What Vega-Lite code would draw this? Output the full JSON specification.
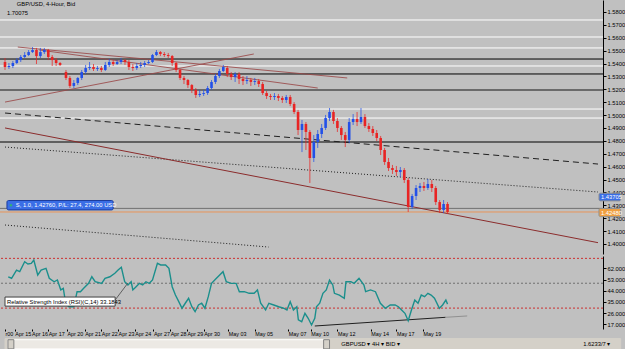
{
"$schema": "https://vega.github.io/schema/vega-lite/v6.json",
"width": 603, "height": 329,
"autosize": {"type": "none"},
"padding": {"left": 0, "top": 0, "right": 22, "bottom": 20},
"background": "#c0c0c0",
"config": {"view": {"stroke": null}, "axis": {"grid": false, "labelFont": "Liberation Sans", "labelFontSize": 5.8, "labelColor": "#000000", "tickColor": "#000000", "domainColor": "#000000", "tickSize": 3, "labelPadding": 1, "labelOverlap": false, "labelBound": false}, "text": {"font": "Liberation Sans"}},
"datasets": {
"candles": [
{"x":0,"o":1.5412,"c":1.5373,"h":1.5443,"l":1.5350},{"x":4,"o":1.5373,"c":1.5381,"h":1.5404,"l":1.5358},{"x":8,"o":1.5381,"c":1.5404,"h":1.5420,"l":1.5365},{"x":12,"o":1.5404,"c":1.5427,"h":1.5443,"l":1.5396},{"x":16,"o":1.5427,"c":1.5451,"h":1.5466,"l":1.5412},{"x":20,"o":1.5451,"c":1.5466,"h":1.5489,"l":1.5443},{"x":24,"o":1.5466,"c":1.5489,"h":1.5505,"l":1.5458},{"x":28,"o":1.5489,"c":1.5505,"h":1.5528,"l":1.5482},{"x":32,"o":1.5505,"c":1.5458,"h":1.5521,"l":1.5396},{"x":36,"o":1.5458,"c":1.5489,"h":1.5521,"l":1.5443},{"x":40,"o":1.5489,"c":1.5505,"h":1.5521,"l":1.5474},{"x":44,"o":1.5505,"c":1.5451,"h":1.5513,"l":1.5427},{"x":48,"o":1.5451,"c":1.5427,"h":1.5466,"l":1.5381},{"x":52,"o":1.5427,"c":1.5404,"h":1.5443,"l":1.5381},{"x":56,"o":1.5404,"c":1.5389,"h":1.5412,"l":1.5381},
{"x":62,"o":1.5334,"c":1.5288,"h":1.5350,"l":1.5272},{"x":66,"o":1.5288,"c":1.5226,"h":1.5303,"l":1.5210},{"x":70,"o":1.5226,"c":1.5249,"h":1.5272,"l":1.5210},{"x":74,"o":1.5249,"c":1.5288,"h":1.5295,"l":1.5233},{"x":78,"o":1.5288,"c":1.5334,"h":1.5350,"l":1.5272},{"x":82,"o":1.5334,"c":1.5365,"h":1.5389,"l":1.5319},{"x":86,"o":1.5365,"c":1.5373,"h":1.5412,"l":1.5350},{"x":90,"o":1.5373,"c":1.5358,"h":1.5396,"l":1.5342},{"x":94,"o":1.5358,"c":1.5365,"h":1.5381,"l":1.5342},{"x":98,"o":1.5365,"c":1.5350,"h":1.5381,"l":1.5334},{"x":102,"o":1.5350,"c":1.5389,"h":1.5412,"l":1.5342},{"x":106,"o":1.5389,"c":1.5412,"h":1.5435,"l":1.5373},{"x":110,"o":1.5412,"c":1.5396,"h":1.5427,"l":1.5381},{"x":114,"o":1.5396,"c":1.5412,"h":1.5427,"l":1.5389},{"x":118,"o":1.5412,"c":1.5427,"h":1.5443,"l":1.5396},{"x":122,"o":1.5427,"c":1.5412,"h":1.5435,"l":1.5389},{"x":126,"o":1.5412,"c":1.5373,"h":1.5427,"l":1.5350},{"x":130,"o":1.5373,"c":1.5365,"h":1.5396,"l":1.5342},{"x":134,"o":1.5365,"c":1.5381,"h":1.5404,"l":1.5350},{"x":138,"o":1.5381,"c":1.5389,"h":1.5412,"l":1.5365},{"x":142,"o":1.5389,"c":1.5404,"h":1.5420,"l":1.5373},{"x":146,"o":1.5404,"c":1.5412,"h":1.5427,"l":1.5396},{"x":150,"o":1.5412,"c":1.5466,"h":1.5474,"l":1.5404},{"x":154,"o":1.5466,"c":1.5489,"h":1.5505,"l":1.5458},{"x":158,"o":1.5489,"c":1.5474,"h":1.5497,"l":1.5458},{"x":162,"o":1.5474,"c":1.5466,"h":1.5489,"l":1.5451},{"x":166,"o":1.5466,"c":1.5458,"h":1.5482,"l":1.5443},
{"x":170,"o":1.5458,"c":1.5404,"h":1.5466,"l":1.5381},{"x":174,"o":1.5404,"c":1.5350,"h":1.5412,"l":1.5334},{"x":178,"o":1.5350,"c":1.5288,"h":1.5358,"l":1.5272},{"x":182,"o":1.5288,"c":1.5272,"h":1.5303,"l":1.5241},{"x":186,"o":1.5272,"c":1.5233,"h":1.5280,"l":1.5210},{"x":190,"o":1.5233,"c":1.5195,"h":1.5241,"l":1.5171},{"x":194,"o":1.5195,"c":1.5156,"h":1.5210,"l":1.5133},{"x":198,"o":1.5156,"c":1.5164,"h":1.5195,"l":1.5140},{"x":202,"o":1.5164,"c":1.5171,"h":1.5195,"l":1.5148},{"x":206,"o":1.5171,"c":1.5210,"h":1.5226,"l":1.5156},{"x":210,"o":1.5210,"c":1.5257,"h":1.5272,"l":1.5195},{"x":214,"o":1.5257,"c":1.5303,"h":1.5319,"l":1.5241},{"x":218,"o":1.5303,"c":1.5342,"h":1.5358,"l":1.5288},{"x":222,"o":1.5342,"c":1.5373,"h":1.5389,"l":1.5334},{"x":226,"o":1.5365,"c":1.5319,"h":1.5381,"l":1.5295},{"x":230,"o":1.5319,"c":1.5295,"h":1.5334,"l":1.5272},{"x":234,"o":1.5295,"c":1.5319,"h":1.5334,"l":1.5257},{"x":238,"o":1.5319,"c":1.5280,"h":1.5334,"l":1.5241},{"x":242,"o":1.5280,"c":1.5264,"h":1.5303,"l":1.5233},{"x":246,"o":1.5264,"c":1.5272,"h":1.5303,"l":1.5241},{"x":250,"o":1.5272,"c":1.5257,"h":1.5288,"l":1.5226},{"x":254,"o":1.5257,"c":1.5264,"h":1.5288,"l":1.5233},{"x":258,"o":1.5264,"c":1.5241,"h":1.5280,"l":1.5218},{"x":262,"o":1.5241,"c":1.5171,"h":1.5257,"l":1.5156},{"x":266,"o":1.5171,"c":1.5148,"h":1.5187,"l":1.5125},{"x":270,"o":1.5148,"c":1.5140,"h":1.5164,"l":1.5117},{"x":274,"o":1.5140,"c":1.5148,"h":1.5171,"l":1.5117},{"x":278,"o":1.5148,"c":1.5133,"h":1.5164,"l":1.5109},{"x":282,"o":1.5133,"c":1.5117,"h":1.5148,"l":1.5094},{"x":286,"o":1.5117,"c":1.5140,"h":1.5156,"l":1.5094},{"x":290,"o":1.5140,"c":1.5086,"h":1.5156,"l":1.5070},{"x":294,"o":1.5086,"c":1.5024,"h":1.5101,"l":1.5008},{"x":298,"o":1.5024,"c":1.4884,"h":1.5040,"l":1.4845},
{"x":302,"o":1.4884,"c":1.4931,"h":1.4962,"l":1.4713},{"x":306,"o":1.4931,"c":1.4869,"h":1.4946,"l":1.4729},{"x":310,"o":1.4869,"c":1.4667,"h":1.4884,"l":1.4473},{"x":314,"o":1.4667,"c":1.4791,"h":1.4845,"l":1.4636},{"x":318,"o":1.4791,"c":1.4853,"h":1.4884,"l":1.4745},{"x":322,"o":1.4853,"c":1.4900,"h":1.4931,"l":1.4822},{"x":326,"o":1.4900,"c":1.4977,"h":1.5001,"l":1.4884},{"x":330,"o":1.4977,"c":1.5024,"h":1.5055,"l":1.4954},{"x":334,"o":1.5024,"c":1.4954,"h":1.5040,"l":1.4931},{"x":338,"o":1.4954,"c":1.4900,"h":1.4977,"l":1.4869},{"x":342,"o":1.4900,"c":1.4845,"h":1.4915,"l":1.4807},{"x":346,"o":1.4845,"c":1.4807,"h":1.4869,"l":1.4752},{"x":350,"o":1.4807,"c":1.4946,"h":1.4977,"l":1.4783},{"x":354,"o":1.4946,"c":1.4970,"h":1.5008,"l":1.4923},{"x":358,"o":1.4970,"c":1.4946,"h":1.5024,"l":1.4915},{"x":362,"o":1.4946,"c":1.4985,"h":1.5055,"l":1.4931},{"x":366,"o":1.4985,"c":1.4915,"h":1.5008,"l":1.4900},{"x":370,"o":1.4915,"c":1.4892,"h":1.4938,"l":1.4869},{"x":374,"o":1.4892,"c":1.4861,"h":1.4915,"l":1.4838},{"x":378,"o":1.4861,"c":1.4822,"h":1.4884,"l":1.4799},{"x":382,"o":1.4822,"c":1.4729,"h":1.4838,"l":1.4690},{"x":386,"o":1.4729,"c":1.4636,"h":1.4745,"l":1.4613},{"x":390,"o":1.4636,"c":1.4589,"h":1.4667,"l":1.4566},{"x":394,"o":1.4589,"c":1.4574,"h":1.4613,"l":1.4543},{"x":398,"o":1.4574,"c":1.4558,"h":1.4605,"l":1.4527},{"x":402,"o":1.4558,"c":1.4574,"h":1.4597,"l":1.4520},{"x":406,"o":1.4574,"c":1.4496,"h":1.4589,"l":1.4473},{"x":410,"o":1.4496,"c":1.4287,"h":1.4512,"l":1.4248},{"x":414,"o":1.4287,"c":1.4372,"h":1.4388,"l":1.4271},{"x":418,"o":1.4372,"c":1.4434,"h":1.4457,"l":1.4341},{"x":422,"o":1.4434,"c":1.4450,"h":1.4473,"l":1.4403},{"x":426,"o":1.4450,"c":1.4434,"h":1.4481,"l":1.4411},{"x":430,"o":1.4434,"c":1.4465,"h":1.4504,"l":1.4419},{"x":434,"o":1.4465,"c":1.4434,"h":1.4496,"l":1.4403},{"x":438,"o":1.4434,"c":1.4325,"h":1.4450,"l":1.4302},{"x":442,"o":1.4325,"c":1.4264,"h":1.4341,"l":1.4240},{"x":446,"o":1.4264,"c":1.4310,"h":1.4341,"l":1.4240},{"x":450,"o":1.4310,"c":1.4248,"h":1.4325,"l":1.4232}
],
"hlines": [
{"p":1.5738,"k":"white"},{"p":1.5606,"k":"white"},{"p":1.5521,"k":"white"},{"p":1.5381,"k":"white"},{"p":1.5047,"k":"white"},{"p":1.4977,"k":"white"},
{"p":1.5435,"k":"black"},{"p":1.5319,"k":"black"},{"p":1.4791,"k":"black"},
{"p":1.5195,"k":"gray"},{"p":1.4276,"k":"order"},{"p":1.4248,"k":"bid"}
],
"trend": [
{"id":"dash","k":"dash","x":0,"p":1.5016},{"id":"dash","k":"dash","x":603,"p":1.4620},
{"id":"dot1","k":"dot","x":0,"p":1.4752},{"id":"dot1","k":"dot","x":603,"p":1.4403},
{"id":"dot2","k":"dot","x":0,"p":1.4147},{"id":"dot2","k":"dot","x":268,"p":1.3976},
{"id":"main","k":"main","x":0,"p":1.4900},{"id":"main","k":"main","x":603,"p":1.4010},
{"id":"A","k":"brown","x":13,"p":1.5528},{"id":"A","k":"brown","x":348,"p":1.5288},
{"id":"B","k":"brown","x":35,"p":1.5505},{"id":"B","k":"brown","x":318,"p":1.5210},
{"id":"C","k":"brown","x":0,"p":1.5101},{"id":"C","k":"brown","x":253,"p":1.5474}
],
"rsi": [
{"x":3.3,"v":55.2},{"x":6.7,"v":54.0},{"x":11.7,"v":60.6},{"x":15,"v":59.3},{"x":20,"v":67.3},{"x":23.3,"v":65.5},{"x":26.7,"v":66.0},{"x":29.3,"v":68.7},{"x":33.3,"v":56.6},{"x":36.7,"v":60.6},{"x":41.7,"v":62.0},{"x":45,"v":54.0},{"x":50,"v":51.2},{"x":53.3,"v":52.6},{"x":56.7,"v":44.6},{"x":59.3,"v":45.9},{"x":61.7,"v":33.9},{"x":65,"v":31.1},{"x":70,"v":31.1},{"x":73.3,"v":43.2},{"x":76.7,"v":43.2},{"x":80,"v":45.9},{"x":85,"v":49.9},{"x":88.3,"v":55.2},{"x":91.7,"v":51.2},{"x":98.3,"v":49.9},{"x":101.7,"v":54.0},{"x":106.7,"v":55.2},{"x":111.7,"v":58.0},{"x":115,"v":60.6},{"x":118.3,"v":62.8},{"x":121.7,"v":51.2},{"x":125,"v":48.6},{"x":128.3,"v":51.2},{"x":130,"v":44.6},{"x":133.3,"v":47.2},{"x":136.7,"v":49.9},{"x":140,"v":48.6},{"x":143.3,"v":51.2},{"x":146.7,"v":49.9},{"x":150,"v":52.6},{"x":155,"v":66.0},{"x":158.3,"v":64.7},{"x":163.3,"v":64.7},{"x":166.7,"v":62.0},{"x":170,"v":47.2},{"x":173.3,"v":40.5},{"x":176.7,"v":35.2},{"x":180,"v":29.9},{"x":183.3,"v":33.9},{"x":186.7,"v":37.9},{"x":190,"v":31.1},{"x":193.3,"v":27.1},{"x":196.7,"v":32.5},{"x":200,"v":33.9},{"x":203.3,"v":29.9},{"x":206.7,"v":39.2},{"x":210,"v":49.9},{"x":215,"v":54.0},{"x":218.3,"v":56.6},{"x":221.7,"v":59.3},{"x":225,"v":51.2},{"x":230,"v":49.9},{"x":235,"v":49.9},{"x":238.3,"v":43.2},{"x":243.3,"v":43.2},{"x":248.3,"v":41.9},{"x":253.3,"v":41.9},{"x":256.7,"v":44.6},{"x":260,"v":33.9},{"x":265,"v":28.5},{"x":268.3,"v":33.9},{"x":273.3,"v":32.5},{"x":278.3,"v":31.1},{"x":283.3,"v":29.9},{"x":286.7,"v":28.5},{"x":290,"v":35.2},{"x":293.3,"v":28.5},{"x":296.7,"v":31.1},{"x":298.3,"v":20.5},{"x":301.7,"v":19.1},{"x":305,"v":25.8},{"x":308.3,"v":21.8},{"x":311.7,"v":16.4},{"x":315,"v":21.8},{"x":316.7,"v":31.1},{"x":320,"v":33.9},{"x":323.3,"v":41.9},{"x":326.7,"v":44.6},{"x":330,"v":52.6},{"x":333.3,"v":48.6},{"x":335,"v":41.9},{"x":340,"v":40.5},{"x":345,"v":37.9},{"x":346.7,"v":51.2},{"x":351.7,"v":51.2},{"x":355,"v":49.9},{"x":360,"v":54.0},{"x":365,"v":48.6},{"x":366.7,"v":43.2},{"x":371.7,"v":44.6},{"x":376.7,"v":43.2},{"x":381.7,"v":33.9},{"x":386.7,"v":29.9},{"x":391.7,"v":32.5},{"x":396.7,"v":32.5},{"x":400,"v":31.1},{"x":403.3,"v":28.5},{"x":406.7,"v":25.8},{"x":410,"v":19.9},{"x":413.3,"v":28.5},{"x":416.7,"v":36.5},{"x":420,"v":33.9},{"x":423.3,"v":40.5},{"x":426.7,"v":39.2},{"x":430,"v":41.9},{"x":433.3,"v":40.5},{"x":436.7,"v":37.9},{"x":441.7,"v":29.9},{"x":445,"v":32.5},{"x":448.3,"v":36.5},{"x":450,"v":33.2}
],
"rsilevels": [{"v":70,"k":"red"},{"v":50,"k":"gray"},{"v":30,"k":"red"}],
"rsitrend": [{"id":"t1","k":"black","x":315,"v":15.6},{"id":"t1","k":"black","x":448,"v":22.6},{"id":"t2","k":"light","x":448,"v":22.6},{"id":"t2","k":"light","x":470,"v":23.7},{"id":"t3","k":"leader","x":112,"v":36.5},{"id":"t3","k":"leader","x":125,"v":50.2}],
"toolbar": [{"x1":0,"x2":626,"v1":5.5,"v2":-4,"f":"bar"},{"x1":3,"x2":330,"v1":4.6,"v2":-2.8,"f":"track"},{"x1":3,"x2":9,"v1":4.6,"v2":-2.8,"f":"btn"},{"x1":324,"x2":330,"v1":4.6,"v2":-2.8,"f":"btn"}]
},
"resolve": {"scale": {"y": "independent"}, "axis": {"y": "independent"}},
"layer": [
{"layer": [
 {"data": {"name": "hlines"}, "transform": [{"filter": "datum.k == 'white'"}], "mark": {"type": "rule", "color": "#ffffff", "strokeWidth": 1},
  "encoding": {"y": {"field": "p", "type": "quantitative", "title": null, "scale": {"domain": [1.3922, 1.5893], "range": [254, 0], "zero": false, "nice": false}, "axis": {"orient": "right", "values": [1.40,1.41,1.42,1.43,1.44,1.45,1.46,1.47,1.48,1.49,1.50,1.51,1.52,1.53,1.54,1.55,1.56,1.57,1.58], "format": ".5f", "labelOverlap": false}}}},
 {"data": {"name": "hlines"}, "transform": [{"filter": "datum.k == 'black'"}], "mark": {"type": "rule", "color": "#000000", "strokeWidth": 1},
  "encoding": {"y": {"field": "p", "type": "quantitative", "title": null, "axis": {"orient": "right", "values": [1.40,1.41,1.42,1.43,1.44,1.45,1.46,1.47,1.48,1.49,1.50,1.51,1.52,1.53,1.54,1.55,1.56,1.57,1.58], "format": ".5f", "labelOverlap": false}}}},
 {"data": {"name": "hlines"}, "transform": [{"filter": "datum.k == 'gray'"}], "mark": {"type": "rule", "color": "#6a6a6a", "strokeWidth": 2},
  "encoding": {"y": {"field": "p", "type": "quantitative", "title": null, "axis": {"orient": "right", "values": [1.40,1.41,1.42,1.43,1.44,1.45,1.46,1.47,1.48,1.49,1.50,1.51,1.52,1.53,1.54,1.55,1.56,1.57,1.58], "format": ".5f", "labelOverlap": false}}}},
 {"data": {"name": "hlines"}, "transform": [{"filter": "datum.k == 'order'"}], "mark": {"type": "rule", "color": "#707070", "strokeWidth": 1},
  "encoding": {"y": {"field": "p", "type": "quantitative", "title": null, "axis": {"orient": "right", "values": [1.40,1.41,1.42,1.43,1.44,1.45,1.46,1.47,1.48,1.49,1.50,1.51,1.52,1.53,1.54,1.55,1.56,1.57,1.58], "format": ".5f", "labelOverlap": false}}}},
 {"data": {"name": "hlines"}, "transform": [{"filter": "datum.k == 'bid'"}], "mark": {"type": "rule", "color": "#e8955a", "strokeWidth": 1},
  "encoding": {"y": {"field": "p", "type": "quantitative", "title": null, "axis": {"orient": "right", "values": [1.40,1.41,1.42,1.43,1.44,1.45,1.46,1.47,1.48,1.49,1.50,1.51,1.52,1.53,1.54,1.55,1.56,1.57,1.58], "format": ".5f", "labelOverlap": false}}}},
 {"data": {"name": "trend"}, "transform": [{"filter": "datum.k == 'dash'"}], "mark": {"type": "line", "color": "#202020", "strokeWidth": 1, "strokeDash": [6, 4]},
  "encoding": {"x": {"field": "x", "type": "quantitative", "title": null, "scale": {"domain": [0, 603], "nice": false, "zero": false}, "axis": {"values": [0,10,27,44,63,81,98,115,132,151,168,185,202,227,254,288,311,338,372,398,425], "labelAlign": "left", "labelOverlap": false, "labelFlush": false, "domain": false, "tickSize": 2, "labelPadding": 0, "labelFontSize": 5.4, "labelExpr": "['r00','Apr 15','Apr 16','Apr 17','Apr 20','Apr 21','Apr 22','Apr 23','Apr 24','Apr 27','Apr 28','Apr 29','Apr 30','May 03','May 05','May 07','May 10','May 12','May 14','May 17','May 19'][indexof([0,10,27,44,63,81,98,115,132,151,168,185,202,227,254,288,311,338,372,398,425], datum.value)]"}}, "y": {"field": "p", "type": "quantitative", "title": null, "axis": {"orient": "right", "values": [1.40,1.41,1.42,1.43,1.44,1.45,1.46,1.47,1.48,1.49,1.50,1.51,1.52,1.53,1.54,1.55,1.56,1.57,1.58], "format": ".5f", "labelOverlap": false}}, "detail": {"field": "id"}}},
 {"data": {"name": "trend"}, "transform": [{"filter": "datum.k == 'dot'"}], "mark": {"type": "line", "color": "#202020", "strokeWidth": 1, "strokeDash": [1, 2]},
  "encoding": {"x": {"field": "x", "type": "quantitative", "title": null, "axis": {"values": [0,10,27,44,63,81,98,115,132,151,168,185,202,227,254,288,311,338,372,398,425], "labelAlign": "left", "labelOverlap": false, "labelFlush": false, "domain": false, "tickSize": 2, "labelPadding": 0, "labelFontSize": 5.4, "labelExpr": "['r00','Apr 15','Apr 16','Apr 17','Apr 20','Apr 21','Apr 22','Apr 23','Apr 24','Apr 27','Apr 28','Apr 29','Apr 30','May 03','May 05','May 07','May 10','May 12','May 14','May 17','May 19'][indexof([0,10,27,44,63,81,98,115,132,151,168,185,202,227,254,288,311,338,372,398,425], datum.value)]"}}, "y": {"field": "p", "type": "quantitative", "title": null, "axis": {"orient": "right", "values": [1.40,1.41,1.42,1.43,1.44,1.45,1.46,1.47,1.48,1.49,1.50,1.51,1.52,1.53,1.54,1.55,1.56,1.57,1.58], "format": ".5f", "labelOverlap": false}}, "detail": {"field": "id"}}},
 {"data": {"name": "trend"}, "transform": [{"filter": "datum.k == 'main'"}], "mark": {"type": "line", "color": "#8b2c2c", "strokeWidth": 1},
  "encoding": {"x": {"field": "x", "type": "quantitative", "title": null, "axis": {"values": [0,10,27,44,63,81,98,115,132,151,168,185,202,227,254,288,311,338,372,398,425], "labelAlign": "left", "labelOverlap": false, "labelFlush": false, "domain": false, "tickSize": 2, "labelPadding": 0, "labelFontSize": 5.4, "labelExpr": "['r00','Apr 15','Apr 16','Apr 17','Apr 20','Apr 21','Apr 22','Apr 23','Apr 24','Apr 27','Apr 28','Apr 29','Apr 30','May 03','May 05','May 07','May 10','May 12','May 14','May 17','May 19'][indexof([0,10,27,44,63,81,98,115,132,151,168,185,202,227,254,288,311,338,372,398,425], datum.value)]"}}, "y": {"field": "p", "type": "quantitative", "title": null, "axis": {"orient": "right", "values": [1.40,1.41,1.42,1.43,1.44,1.45,1.46,1.47,1.48,1.49,1.50,1.51,1.52,1.53,1.54,1.55,1.56,1.57,1.58], "format": ".5f", "labelOverlap": false}}, "detail": {"field": "id"}}},
 {"data": {"name": "trend"}, "transform": [{"filter": "datum.k == 'brown'"}], "mark": {"type": "line", "color": "#9a4848", "strokeWidth": 1, "opacity": 0.85},
  "encoding": {"x": {"field": "x", "type": "quantitative", "title": null, "axis": {"values": [0,10,27,44,63,81,98,115,132,151,168,185,202,227,254,288,311,338,372,398,425], "labelAlign": "left", "labelOverlap": false, "labelFlush": false, "domain": false, "tickSize": 2, "labelPadding": 0, "labelFontSize": 5.4, "labelExpr": "['r00','Apr 15','Apr 16','Apr 17','Apr 20','Apr 21','Apr 22','Apr 23','Apr 24','Apr 27','Apr 28','Apr 29','Apr 30','May 03','May 05','May 07','May 10','May 12','May 14','May 17','May 19'][indexof([0,10,27,44,63,81,98,115,132,151,168,185,202,227,254,288,311,338,372,398,425], datum.value)]"}}, "y": {"field": "p", "type": "quantitative", "title": null, "axis": {"orient": "right", "values": [1.40,1.41,1.42,1.43,1.44,1.45,1.46,1.47,1.48,1.49,1.50,1.51,1.52,1.53,1.54,1.55,1.56,1.57,1.58], "format": ".5f", "labelOverlap": false}}, "detail": {"field": "id"}}},
 {"data": {"name": "candles"}, "mark": {"type": "rule", "strokeWidth": 1, "opacity": 0.75},
  "encoding": {"x": {"field": "x", "type": "quantitative", "title": null, "axis": {"values": [0,10,27,44,63,81,98,115,132,151,168,185,202,227,254,288,311,338,372,398,425], "labelAlign": "left", "labelOverlap": false, "labelFlush": false, "domain": false, "tickSize": 2, "labelPadding": 0, "labelFontSize": 5.4, "labelExpr": "['r00','Apr 15','Apr 16','Apr 17','Apr 20','Apr 21','Apr 22','Apr 23','Apr 24','Apr 27','Apr 28','Apr 29','Apr 30','May 03','May 05','May 07','May 10','May 12','May 14','May 17','May 19'][indexof([0,10,27,44,63,81,98,115,132,151,168,185,202,227,254,288,311,338,372,398,425], datum.value)]"}}, "y": {"field": "l", "type": "quantitative", "title": null, "axis": {"orient": "right", "values": [1.40,1.41,1.42,1.43,1.44,1.45,1.46,1.47,1.48,1.49,1.50,1.51,1.52,1.53,1.54,1.55,1.56,1.57,1.58], "format": ".5f", "labelOverlap": false}}, "y2": {"field": "h"},
   "color": {"condition": {"test": "datum.c >= datum.o", "value": "#2250e8"}, "value": "#e82424"}}},
 {"data": {"name": "candles"}, "mark": {"type": "bar", "size": 2.6},
  "encoding": {"x": {"field": "x", "type": "quantitative", "title": null, "axis": {"values": [0,10,27,44,63,81,98,115,132,151,168,185,202,227,254,288,311,338,372,398,425], "labelAlign": "left", "labelOverlap": false, "labelFlush": false, "domain": false, "tickSize": 2, "labelPadding": 0, "labelFontSize": 5.4, "labelExpr": "['r00','Apr 15','Apr 16','Apr 17','Apr 20','Apr 21','Apr 22','Apr 23','Apr 24','Apr 27','Apr 28','Apr 29','Apr 30','May 03','May 05','May 07','May 10','May 12','May 14','May 17','May 19'][indexof([0,10,27,44,63,81,98,115,132,151,168,185,202,227,254,288,311,338,372,398,425], datum.value)]"}}, "y": {"field": "o", "type": "quantitative", "title": null, "axis": {"orient": "right", "values": [1.40,1.41,1.42,1.43,1.44,1.45,1.46,1.47,1.48,1.49,1.50,1.51,1.52,1.53,1.54,1.55,1.56,1.57,1.58], "format": ".5f", "labelOverlap": false}}, "y2": {"field": "c"},
   "color": {"condition": {"test": "datum.c >= datum.o", "value": "#2250e8"}, "value": "#e82424"}}},
 {"data": {"values": [{"x1": 2, "x2": 110, "p1": 1.4264, "p2": 1.4337, "f": "order"}, {"x1": 604, "x2": 626, "p1": 1.4334, "p2": 1.4394, "f": "blue"}, {"x1": 604, "x2": 626, "p1": 1.4212, "p2": 1.4275, "f": "orange"}]}, "mark": {"type": "rect", "cornerRadius": 1.5, "strokeWidth": 1},
  "encoding": {"x": {"field": "x1", "type": "quantitative", "title": null, "axis": {"values": [0,10,27,44,63,81,98,115,132,151,168,185,202,227,254,288,311,338,372,398,425], "labelAlign": "left", "labelOverlap": false, "labelFlush": false, "domain": false, "tickSize": 2, "labelPadding": 0, "labelFontSize": 5.4, "labelExpr": "['r00','Apr 15','Apr 16','Apr 17','Apr 20','Apr 21','Apr 22','Apr 23','Apr 24','Apr 27','Apr 28','Apr 29','Apr 30','May 03','May 05','May 07','May 10','May 12','May 14','May 17','May 19'][indexof([0,10,27,44,63,81,98,115,132,151,168,185,202,227,254,288,311,338,372,398,425], datum.value)]"}}, "x2": {"field": "x2"}, "y": {"field": "p1", "type": "quantitative", "title": null, "axis": {"orient": "right", "values": [1.40,1.41,1.42,1.43,1.44,1.45,1.46,1.47,1.48,1.49,1.50,1.51,1.52,1.53,1.54,1.55,1.56,1.57,1.58], "format": ".5f", "labelOverlap": false}}, "y2": {"field": "p2"},
   "fill": {"condition": {"test": "datum.f == 'orange'", "value": "#f0a040"}, "value": "#3a6ee6"},
   "stroke": {"condition": {"test": "datum.f == 'order'", "value": "#1c3c9c"}, "value": "#909090"}}},
 {"data": {"values": [{"x": 6, "p": 1.4300}]}, "mark": {"type": "point", "filled": true, "size": 6, "color": "#30d040"},
  "encoding": {"x": {"field": "x", "type": "quantitative", "title": null, "axis": {"values": [0,10,27,44,63,81,98,115,132,151,168,185,202,227,254,288,311,338,372,398,425], "labelAlign": "left", "labelOverlap": false, "labelFlush": false, "domain": false, "tickSize": 2, "labelPadding": 0, "labelFontSize": 5.4, "labelExpr": "['r00','Apr 15','Apr 16','Apr 17','Apr 20','Apr 21','Apr 22','Apr 23','Apr 24','Apr 27','Apr 28','Apr 29','Apr 30','May 03','May 05','May 07','May 10','May 12','May 14','May 17','May 19'][indexof([0,10,27,44,63,81,98,115,132,151,168,185,202,227,254,288,311,338,372,398,425], datum.value)]"}}, "y": {"field": "p", "type": "quantitative", "title": null, "axis": {"orient": "right", "values": [1.40,1.41,1.42,1.43,1.44,1.45,1.46,1.47,1.48,1.49,1.50,1.51,1.52,1.53,1.54,1.55,1.56,1.57,1.58], "format": ".5f", "labelOverlap": false}}}},
 {"data": {"values": [{"x": 11, "p": 1.4300, "t": "S, 1.0, 1.42760, P/L: 27.4, 274.00 USD"}, {"x": 12, "p": 1.5862, "t": "GBP/USD, 4-Hour, Bid", "w": "k"}, {"x": 2, "p": 1.5790, "t": "1.70075", "w": "k"}, {"x": 606, "p": 1.4364, "t": "1.43705"}, {"x": 606, "p": 1.4244, "t": "1.42480"}]}, "mark": {"type": "text", "align": "left", "baseline": "middle", "fontSize": 5.8},
  "encoding": {"x": {"field": "x", "type": "quantitative", "title": null, "axis": {"values": [0,10,27,44,63,81,98,115,132,151,168,185,202,227,254,288,311,338,372,398,425], "labelAlign": "left", "labelOverlap": false, "labelFlush": false, "domain": false, "tickSize": 2, "labelPadding": 0, "labelFontSize": 5.4, "labelExpr": "['r00','Apr 15','Apr 16','Apr 17','Apr 20','Apr 21','Apr 22','Apr 23','Apr 24','Apr 27','Apr 28','Apr 29','Apr 30','May 03','May 05','May 07','May 10','May 12','May 14','May 17','May 19'][indexof([0,10,27,44,63,81,98,115,132,151,168,185,202,227,254,288,311,338,372,398,425], datum.value)]"}}, "y": {"field": "p", "type": "quantitative", "title": null, "axis": {"orient": "right", "values": [1.40,1.41,1.42,1.43,1.44,1.45,1.46,1.47,1.48,1.49,1.50,1.51,1.52,1.53,1.54,1.55,1.56,1.57,1.58], "format": ".5f", "labelOverlap": false}}, "text": {"field": "t"},
   "color": {"condition": {"test": "datum.w == 'k'", "value": "#000000"}, "value": "#ffffff"}}}
]},
{"layer": [
 {"data": {"name": "rsilevels"}, "transform": [{"filter": "datum.k == 'red'"}], "mark": {"type": "rule", "color": "#cc3030", "strokeWidth": 1, "strokeDash": [2, 2]},
  "encoding": {"y": {"field": "v", "type": "quantitative", "title": null, "scale": {"domain": [13.2, 71.9], "range": [329, 256], "zero": false, "nice": false}, "axis": {"orient": "right", "values": [17, 26, 35, 44, 53, 62], "format": ".4f", "labelOverlap": false}}}},
 {"data": {"name": "rsilevels"}, "transform": [{"filter": "datum.k == 'gray'"}], "mark": {"type": "rule", "color": "#707070", "strokeWidth": 1, "strokeDash": [2, 2]},
  "encoding": {"y": {"field": "v", "type": "quantitative", "title": null, "axis": {"orient": "right", "values": [17, 26, 35, 44, 53, 62], "format": ".4f", "labelOverlap": false}}}},
 {"data": {"name": "rsitrend"}, "transform": [{"filter": "datum.k == 'black'"}], "mark": {"type": "line", "strokeWidth": 1, "color": "#202020"},
  "encoding": {"x": {"field": "x", "type": "quantitative", "title": null, "axis": {"values": [0,10,27,44,63,81,98,115,132,151,168,185,202,227,254,288,311,338,372,398,425], "labelAlign": "left", "labelOverlap": false, "labelFlush": false, "domain": false, "tickSize": 2, "labelPadding": 0, "labelFontSize": 5.4, "labelExpr": "['r00','Apr 15','Apr 16','Apr 17','Apr 20','Apr 21','Apr 22','Apr 23','Apr 24','Apr 27','Apr 28','Apr 29','Apr 30','May 03','May 05','May 07','May 10','May 12','May 14','May 17','May 19'][indexof([0,10,27,44,63,81,98,115,132,151,168,185,202,227,254,288,311,338,372,398,425], datum.value)]"}}, "y": {"field": "v", "type": "quantitative", "title": null, "axis": {"orient": "right", "values": [17, 26, 35, 44, 53, 62], "format": ".4f", "labelOverlap": false}}, "detail": {"field": "id"}}},
 {"data": {"name": "rsitrend"}, "transform": [{"filter": "datum.k == 'light'"}], "mark": {"type": "line", "strokeWidth": 1, "color": "#909090"},
  "encoding": {"x": {"field": "x", "type": "quantitative", "title": null, "axis": {"values": [0,10,27,44,63,81,98,115,132,151,168,185,202,227,254,288,311,338,372,398,425], "labelAlign": "left", "labelOverlap": false, "labelFlush": false, "domain": false, "tickSize": 2, "labelPadding": 0, "labelFontSize": 5.4, "labelExpr": "['r00','Apr 15','Apr 16','Apr 17','Apr 20','Apr 21','Apr 22','Apr 23','Apr 24','Apr 27','Apr 28','Apr 29','Apr 30','May 03','May 05','May 07','May 10','May 12','May 14','May 17','May 19'][indexof([0,10,27,44,63,81,98,115,132,151,168,185,202,227,254,288,311,338,372,398,425], datum.value)]"}}, "y": {"field": "v", "type": "quantitative", "title": null, "axis": {"orient": "right", "values": [17, 26, 35, 44, 53, 62], "format": ".4f", "labelOverlap": false}}, "detail": {"field": "id"}}},
 {"data": {"name": "rsi"}, "mark": {"type": "line", "color": "#1b8f8c", "strokeWidth": 1.4},
  "encoding": {"x": {"field": "x", "type": "quantitative", "title": null, "axis": {"values": [0,10,27,44,63,81,98,115,132,151,168,185,202,227,254,288,311,338,372,398,425], "labelAlign": "left", "labelOverlap": false, "labelFlush": false, "domain": false, "tickSize": 2, "labelPadding": 0, "labelFontSize": 5.4, "labelExpr": "['r00','Apr 15','Apr 16','Apr 17','Apr 20','Apr 21','Apr 22','Apr 23','Apr 24','Apr 27','Apr 28','Apr 29','Apr 30','May 03','May 05','May 07','May 10','May 12','May 14','May 17','May 19'][indexof([0,10,27,44,63,81,98,115,132,151,168,185,202,227,254,288,311,338,372,398,425], datum.value)]"}},
   "y": {"field": "v", "type": "quantitative", "title": null, "axis": {"orient": "right", "values": [17, 26, 35, 44, 53, 62], "format": ".4f", "labelOverlap": false}}}},
 {"data": {"name": "rsitrend"}, "transform": [{"filter": "datum.k == 'leader'"}], "mark": {"type": "line", "color": "#606060", "strokeWidth": 1},
  "encoding": {"x": {"field": "x", "type": "quantitative", "title": null, "axis": {"values": [0,10,27,44,63,81,98,115,132,151,168,185,202,227,254,288,311,338,372,398,425], "labelAlign": "left", "labelOverlap": false, "labelFlush": false, "domain": false, "tickSize": 2, "labelPadding": 0, "labelFontSize": 5.4, "labelExpr": "['r00','Apr 15','Apr 16','Apr 17','Apr 20','Apr 21','Apr 22','Apr 23','Apr 24','Apr 27','Apr 28','Apr 29','Apr 30','May 03','May 05','May 07','May 10','May 12','May 14','May 17','May 19'][indexof([0,10,27,44,63,81,98,115,132,151,168,185,202,227,254,288,311,338,372,398,425], datum.value)]"}}, "y": {"field": "v", "type": "quantitative", "title": null, "axis": {"orient": "right", "values": [17, 26, 35, 44, 53, 62], "format": ".4f", "labelOverlap": false}}, "detail": {"field": "id"}}},
 {"data": {"name": "toolbar"}, "mark": {"type": "rect", "strokeWidth": 1},
  "encoding": {"x": {"field": "x1", "type": "quantitative", "title": null, "axis": {"values": [0,10,27,44,63,81,98,115,132,151,168,185,202,227,254,288,311,338,372,398,425], "labelAlign": "left", "labelOverlap": false, "labelFlush": false, "domain": false, "tickSize": 2, "labelPadding": 0, "labelFontSize": 5.4, "labelExpr": "['r00','Apr 15','Apr 16','Apr 17','Apr 20','Apr 21','Apr 22','Apr 23','Apr 24','Apr 27','Apr 28','Apr 29','Apr 30','May 03','May 05','May 07','May 10','May 12','May 14','May 17','May 19'][indexof([0,10,27,44,63,81,98,115,132,151,168,185,202,227,254,288,311,338,372,398,425], datum.value)]"}}, "x2": {"field": "x2"}, "y": {"field": "v1", "type": "quantitative", "title": null, "axis": {"orient": "right", "values": [17, 26, 35, 44, 53, 62], "format": ".4f", "labelOverlap": false}}, "y2": {"field": "v2"},
   "fill": {"condition": {"test": "datum.f == 'track'", "value": "#ece9e4"}, "value": "#d4d0c8"},
   "stroke": {"condition": [{"test": "datum.f == 'track'", "value": "#ffffff"}, {"test": "datum.f == 'btn'", "value": "#808080"}], "value": "#d4d0c8"}}},
 {"data": {"values": [{"x1": 0, "x2": 112, "v1": 31.6, "v2": 38.9}]}, "mark": {"type": "rect", "fill": "#ffffff", "stroke": "#404040", "strokeWidth": 1},
  "encoding": {"x": {"field": "x1", "type": "quantitative", "title": null, "axis": {"values": [0,10,27,44,63,81,98,115,132,151,168,185,202,227,254,288,311,338,372,398,425], "labelAlign": "left", "labelOverlap": false, "labelFlush": false, "domain": false, "tickSize": 2, "labelPadding": 0, "labelFontSize": 5.4, "labelExpr": "['r00','Apr 15','Apr 16','Apr 17','Apr 20','Apr 21','Apr 22','Apr 23','Apr 24','Apr 27','Apr 28','Apr 29','Apr 30','May 03','May 05','May 07','May 10','May 12','May 14','May 17','May 19'][indexof([0,10,27,44,63,81,98,115,132,151,168,185,202,227,254,288,311,338,372,398,425], datum.value)]"}}, "x2": {"field": "x2"}, "y": {"field": "v1", "type": "quantitative", "title": null, "axis": {"orient": "right", "values": [17, 26, 35, 44, 53, 62], "format": ".4f", "labelOverlap": false}}, "y2": {"field": "v2"}}},
 {"data": {"values": [{"x": 2, "v": 35.2, "t": "Relative Strength Index (RSI)(C,14) 33.1843"}, {"x": 342, "v": 0.8, "t": "GBPUSD ▾   4H ▾   BID ▾"}, {"x": 588, "v": 0.8, "t": "1.6233/7 ▾"}]}, "mark": {"type": "text", "align": "left", "baseline": "middle", "fontSize": 5.8, "color": "#000000"},
  "encoding": {"x": {"field": "x", "type": "quantitative", "title": null, "axis": {"values": [0,10,27,44,63,81,98,115,132,151,168,185,202,227,254,288,311,338,372,398,425], "labelAlign": "left", "labelOverlap": false, "labelFlush": false, "domain": false, "tickSize": 2, "labelPadding": 0, "labelFontSize": 5.4, "labelExpr": "['r00','Apr 15','Apr 16','Apr 17','Apr 20','Apr 21','Apr 22','Apr 23','Apr 24','Apr 27','Apr 28','Apr 29','Apr 30','May 03','May 05','May 07','May 10','May 12','May 14','May 17','May 19'][indexof([0,10,27,44,63,81,98,115,132,151,168,185,202,227,254,288,311,338,372,398,425], datum.value)]"}}, "y": {"field": "v", "type": "quantitative", "title": null, "axis": {"orient": "right", "values": [17, 26, 35, 44, 53, 62], "format": ".4f", "labelOverlap": false}}, "text": {"field": "t"}}}
]}
]
}
